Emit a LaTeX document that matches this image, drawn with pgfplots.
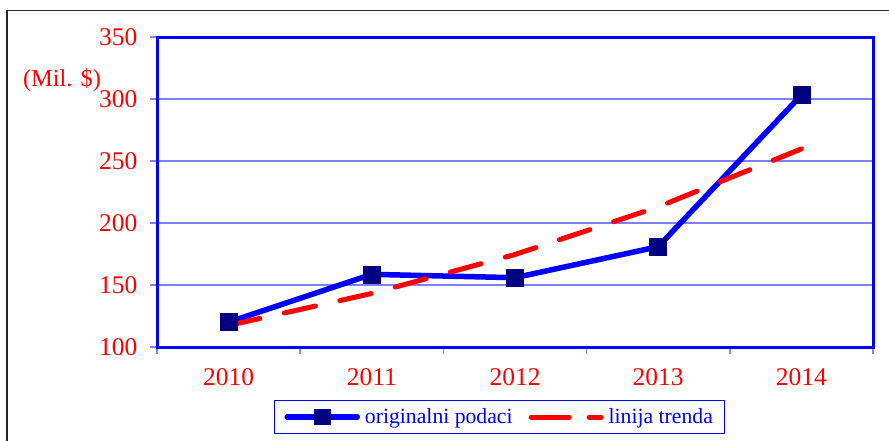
\documentclass[border=0pt]{standalone}
\usepackage{pgfplots}
\pgfplotsset{compat=1.18}
\usepackage{fontspec}
\setmainfont{Liberation Serif}
\definecolor{gridblue}{RGB}{128,128,255}
\definecolor{navymark}{RGB}{0,0,128}
\begin{document}
\begin{tikzpicture}[x=1pt,y=1pt]
\useasboundingbox (0,0) rectangle (889,440);
\draw[line width=1.5pt, black!85] (7,-5) -- (7,429.3) -- (895,429.3);
\begin{axis}[
  at={(157pt,93pt)}, anchor=south west,
  scale only axis, width=716pt, height=310pt,
  xmin=-0.5, xmax=4.5, ymin=100, ymax=350,
  xtick={-0.5,0.5,1.5,2.5,3.5,4.5},
  x tick label as interval,
  xticklabels={2010,2011,2012,2013,2014},
  ytick={100,150,200,250,300,350},
  ymajorgrids, grid style={gridblue, line width=1.5pt},
  axis line style={blue, line width=3pt},
  tick align=outside, major tick length=7pt,
  tick style={gridblue, line width=1.5pt},
  tick pos=left,
  ticklabel style={font=\fontsize{25.5}{30}\selectfont, text=red},
  yticklabel style={xshift=-9pt},
  xticklabel style={yshift=-11pt},
  /pgf/number format/assume math mode=true,
  legend columns=2,
  legend style={at={(0.4786,-0.2258)}, anchor=center, draw=blue, line width=1pt,
    text=blue, font=\fontsize{21.7}{26}\selectfont, inner xsep=10pt, inner ysep=6.5pt,
    /tikz/every even column/.append style={column sep=14pt},
    /tikz/every odd column/.append style={column sep=3pt}},
]
\addplot[blue, line width=5.5pt, mark=square*, mark size=8.5pt,
  mark options={solid, fill=navymark, draw=navymark, line width=0.5pt},
  legend image code/.code={\draw[blue, line width=5.5pt, line cap=round] (0pt,0pt) -- (70pt,0pt);
    \fill[navymark] (30pt,-5.5pt) rectangle (41pt,5.5pt);}]
  coordinates {(0,120) (1,158.6) (2,155.9) (3,180.9) (4,303.2)};
\addlegendentry{originalni podaci}
\addplot[red, line width=5pt, line cap=round, dash pattern=on 32pt off 25pt,
  legend image code/.code={\draw[red, line width=5pt, line cap=round, dash pattern=on 38pt off 20pt] (0pt,0pt) -- (70pt,0pt);}]
  coordinates {(0,117.4) (1,143.2) (2,174.6) (3,213.0) (4,259.8)};
\addlegendentry{linija trenda}
\end{axis}
\node[red, font=\fontsize{24.4}{29}\selectfont] at (62,360) {(Mil. \$)};
\end{tikzpicture}
\end{document}
